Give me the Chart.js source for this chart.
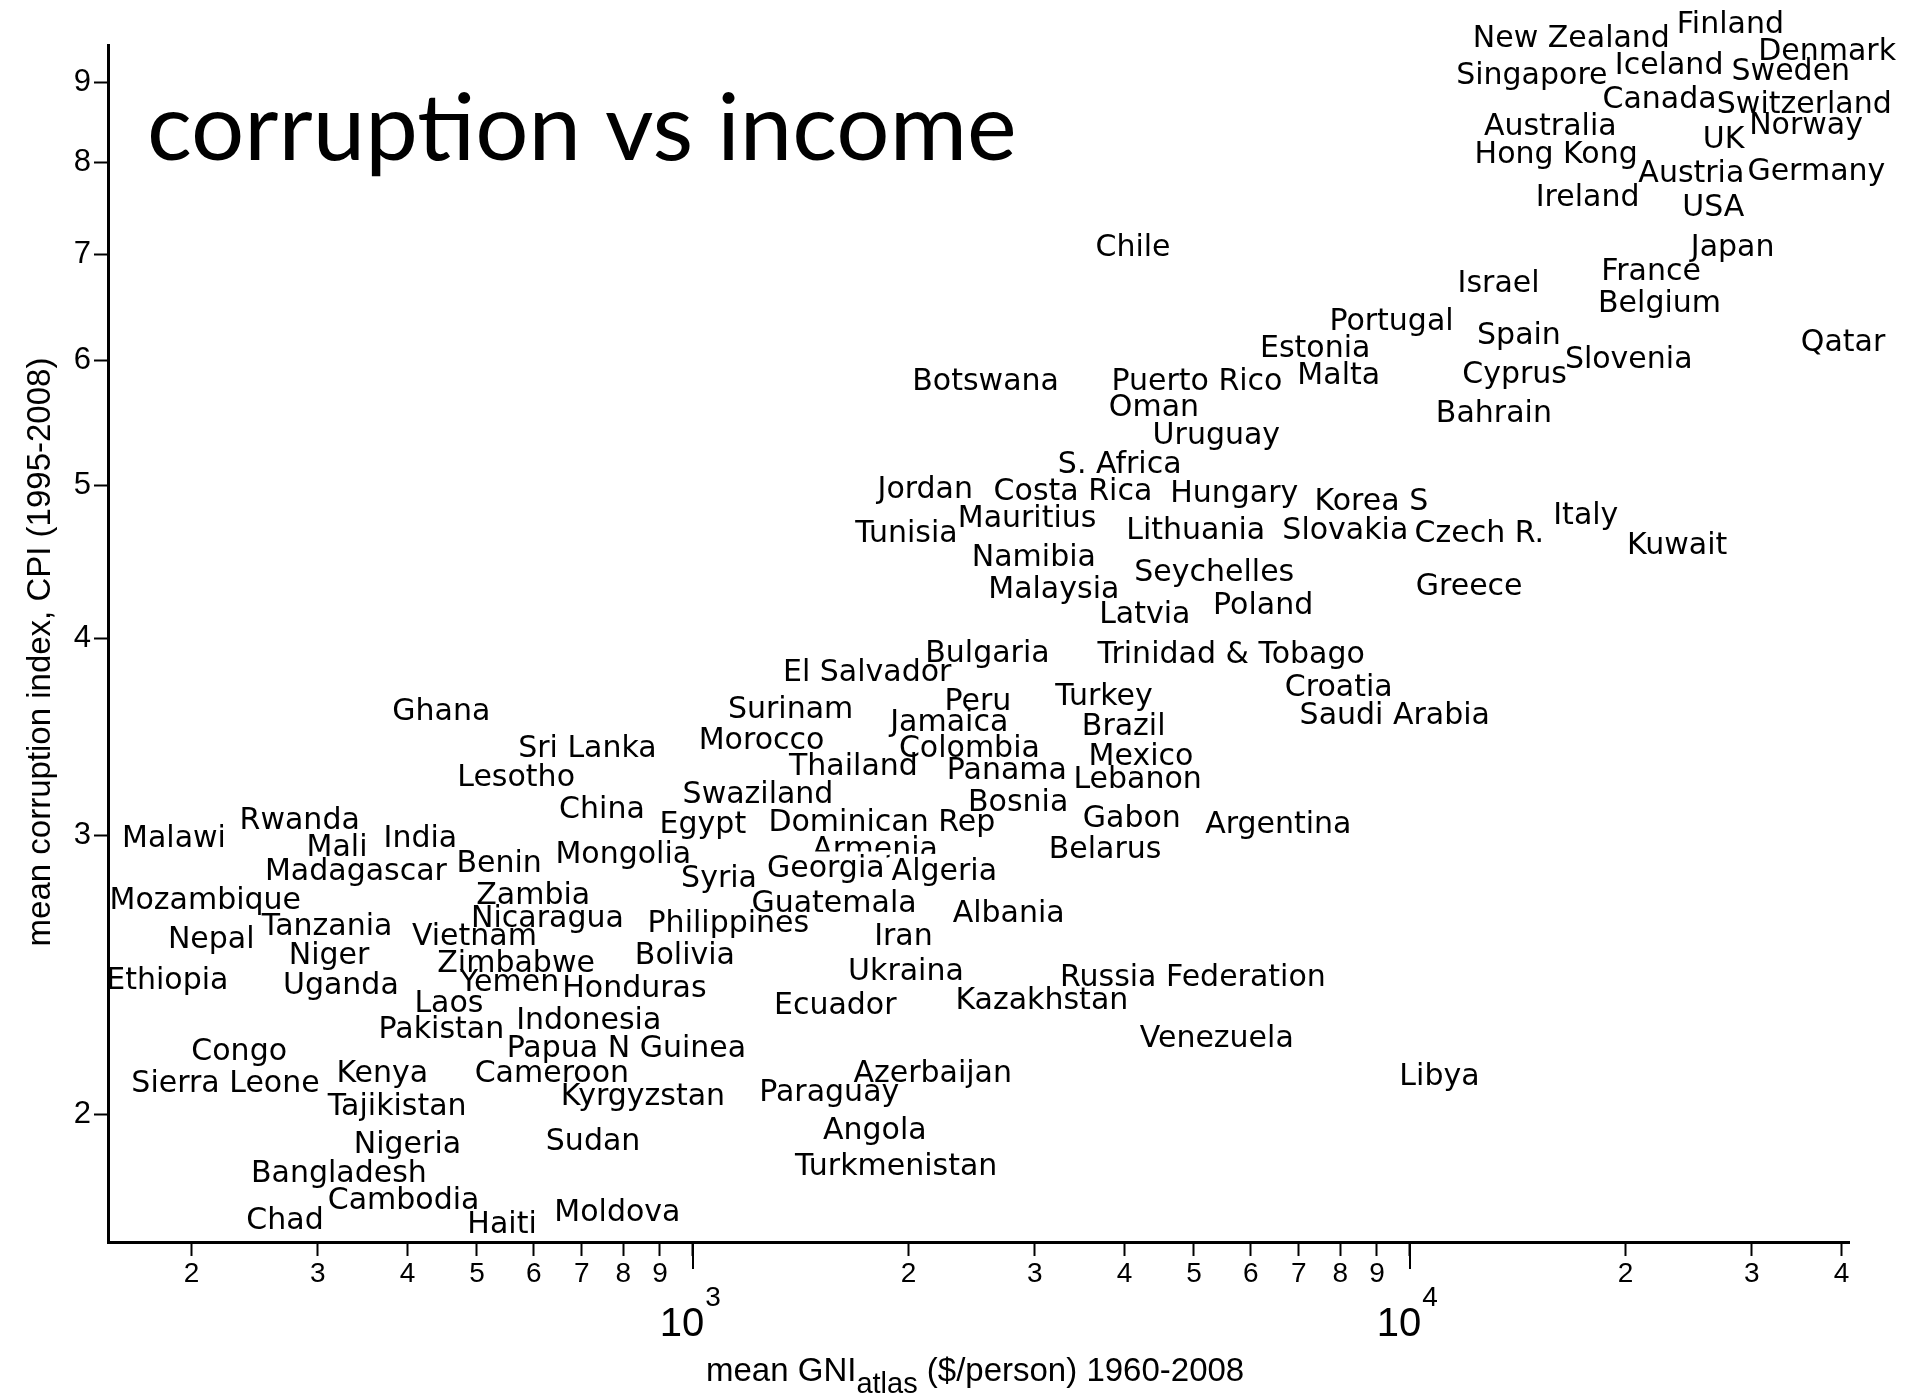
<!DOCTYPE html>
<html>
<head>
<meta charset="utf-8">
<title>corruption vs income</title>
<script src="https://cdn.jsdelivr.net/npm/chart.js@4/dist/chart.umd.min.js"></script>
<style>
  html, body { margin: 0; padding: 0; background: #fff; }
  canvas { display: block; }
</style>
</head>
<body>
<canvas id="chart" width="1905" height="1397" style="width:1905px;height:1397px"></canvas>
<script>
// Mean corruption perception index (1995-2008) against mean GNI per person (1960-2008)

const countries = [
  'Malawi', 'Rwanda', 'Mali', 'India', 'Madagascar', 'Benin', 'Mongolia', 'China', 'Lesotho', 'Sri Lanka',
  'Ghana', 'Mozambique', 'Tanzania', 'Zambia', 'Nicaragua', 'Vietnam', 'Nepal', 'Niger', 'Zimbabwe', 'Ethiopia',
  'Uganda', 'Yemen', 'Honduras', 'Laos', 'Pakistan', 'Indonesia', 'Papua N Guinea', 'Congo', 'Sierra Leone', 'Kenya',
  'Cameroon', 'Tajikistan', 'Kyrgyzstan', 'Nigeria', 'Sudan', 'Bangladesh', 'Cambodia', 'Chad', 'Haiti', 'Moldova',
  'Latvia', 'Bulgaria', 'El Salvador', 'Trinidad & Tobago', 'Surinam', 'Peru', 'Turkey', 'Jamaica', 'Brazil', 'Morocco',
  'Colombia', 'Mexico', 'Thailand', 'Panama', 'Lebanon', 'Swaziland', 'Bosnia', 'Gabon', 'Argentina', 'Egypt',
  'Dominican Rep', 'Armenia', 'Georgia', 'Algeria', 'Belarus', 'Syria', 'Guatemala', 'Philippines', 'Albania', 'Iran',
  'Bolivia', 'Ukraina', 'Russia Federation', 'Kazakhstan', 'Ecuador', 'Venezuela', 'Azerbaijan', 'Paraguay', 'Angola', 'Turkmenistan',
  'Chile', 'Botswana', 'Puerto Rico', 'Oman', 'Uruguay', 'Estonia', 'S. Africa', 'Jordan', 'Costa Rica', 'Hungary',
  'Tunisia', 'Mauritius', 'Lithuania', 'Namibia', 'Seychelles', 'Malaysia', 'Poland',
  'Finland', 'New Zealand', 'Denmark', 'Singapore', 'Iceland', 'Sweden', 'Canada', 'Switzerland', 'Norway', 'Australia',
  'UK', 'Hong Kong', 'Austria', 'Germany', 'Ireland', 'USA', 'Japan', 'Israel', 'France', 'Belgium',
  'Portugal', 'Spain', 'Qatar', 'Slovenia', 'Malta', 'Cyprus', 'Bahrain', 'Korea S', 'Slovakia', 'Czech R.',
  'Italy', 'Kuwait', 'Greece', 'Croatia', 'Saudi Arabia', 'Libya'
];

// mean GNI (atlas method), $ per person
const gni = [
  189, 283, 319, 417, 339, 537, 800, 747, 567, 713,
  446, 209, 309, 599, 627, 496, 213, 311, 567, 185,
  323, 555, 829, 457, 446, 716, 808, 233, 223, 369,
  636, 387, 852, 400, 726, 321, 395, 270, 542, 785,
  4270, 2576, 1751, 5635, 1369, 2498, 3745, 2279, 3990, 1247,
  2431, 4218, 1675, 2742, 4173, 1233, 2843, 4096, 6556, 1033,
  1835, 1796, 1533, 2243, 3758, 1088, 1574, 1121, 2758, 1967,
  975, 1983, 4983, 3068, 1580, 5380, 2161, 1550, 1794, 1922,
  4111, 2561, 5048, 4397, 5373, 7381, 3939, 2110, 3390, 5690,
  1986, 2926, 5028, 2990, 5337, 3188, 6244,
  28000, 16800, 38200, 14800, 23000, 34000, 22300, 35500, 35700, 15700,
  27400, 16000, 24700, 36900, 17700, 26500, 28200, 13300, 21700, 22300,
  9430, 14200, 40200, 20200, 7960, 14000, 13100, 8840, 8130, 12500,
  17600, 23600, 12100, 7960, 9530, 11000
];

// mean corruption perception index, CPI
const cpi = [
  3.00, 3.08, 2.96, 3.00, 2.86, 2.89, 2.93, 3.13, 3.28, 3.42,
  3.61, 2.74, 2.64, 2.76, 2.67, 2.60, 2.59, 2.53, 2.50, 2.44,
  2.42, 2.43, 2.41, 2.36, 2.27, 2.30, 2.21, 2.20, 2.10, 2.13,
  2.13, 2.03, 2.06, 1.92, 1.93, 1.84, 1.77, 1.72, 1.71, 1.74,
  4.16, 3.93, 3.82, 3.92, 3.62, 3.66, 3.69, 3.55, 3.53, 3.46,
  3.42, 3.38, 3.33, 3.31, 3.27, 3.20, 3.16, 3.09, 3.06, 3.06,
  3.07, 2.95, 2.87, 2.86, 2.95, 2.83, 2.73, 2.65, 2.69, 2.60,
  2.53, 2.47, 2.45, 2.37, 2.35, 2.24, 2.13, 2.07, 1.96, 1.86,
  7.10, 5.84, 5.84, 5.62, 5.40, 6.13, 5.17, 4.99, 4.97, 4.96,
  4.68, 4.78, 4.70, 4.52, 4.42, 4.31, 4.21,
  9.83, 9.62, 9.45, 9.12, 9.25, 9.17, 8.81, 8.74, 8.48, 8.46,
  8.31, 8.13, 7.90, 7.93, 7.63, 7.52, 7.10, 6.73, 6.85, 6.54,
  6.37, 6.24, 6.18, 6.03, 5.89, 5.90, 5.57, 4.90, 4.70, 4.68,
  4.80, 4.60, 4.33, 3.74, 3.59, 2.12
];

const xTicks = [200, 300, 400, 500, 600, 700, 800, 900, 1000,
                2000, 3000, 4000, 5000, 6000, 7000, 8000, 9000, 10000,
                20000, 30000, 40000];
const xDecades = [1000, 10000];
const yTicks = [2, 3, 4, 5, 6, 7, 8, 9];

const titleText = 'corruption vs income';
const yTitleText = 'mean corruption index, CPI (1995-2008)';
const xTitleParts = ['mean GNI', 'atlas', ' ($/person) 1960-2008'];

// labels painted on an opaque box (they hide whatever lies beneath)
const boxedLabels = new Set(['Georgia', 'Algeria']);

const points = gni.map((g, i) => ({ x: g, y: cpi[i] }));

const SANS = '"Liberation Sans", Arial, Helvetica, sans-serif';
const LABEL_SIZE = 30;
const LABEL_FONT = LABEL_SIZE + 'px "DejaVu Sans", Verdana, sans-serif';

function mantissa(v) {
  const e = Math.floor(Math.log10(v) + 1e-9);
  return Math.round(v / Math.pow(10, e));
}

const countryLabels = {
  id: 'countryLabels',
  afterDatasetsDraw(chart) {
    const ctx = chart.ctx;
    const meta = chart.getDatasetMeta(0);
    ctx.save();
    ctx.font = LABEL_FONT;
    ctx.textAlign = 'center';
    ctx.textBaseline = 'alphabetic';
    const half = LABEL_SIZE * 0.729 / 2;
    meta.data.forEach((pt, i) => {
      const name = countries[i];
      const base = pt.y + half;
      if (boxedLabels.has(name)) {
        const w = ctx.measureText(name).width;
        ctx.fillStyle = '#fff';
        ctx.fillRect(pt.x - w / 2 - 2, base - LABEL_SIZE * 0.86, w + 4, LABEL_SIZE * 1.12);
      }
      ctx.fillStyle = '#000';
      ctx.fillText(name, pt.x, base);
    });
    ctx.restore();
  }
};

const decorations = {
  id: 'decorations',
  afterDraw(chart) {
    const ctx = chart.ctx;
    const xs = chart.scales.x;
    const area = chart.chartArea;
    ctx.save();

    // longer ticks at the decades
    ctx.strokeStyle = '#000';
    ctx.lineWidth = 2;
    xDecades.forEach(d => {
      const px = Math.round(xs.getPixelForValue(d));
      ctx.beginPath();
      ctx.moveTo(px, area.bottom);
      ctx.lineTo(px, area.bottom + 27);
      ctx.stroke();
    });

    // decade labels 10^n
    ctx.fillStyle = '#000';
    ctx.textBaseline = 'alphabetic';
    ctx.textAlign = 'left';
    xDecades.forEach(d => {
      const px = xs.getPixelForValue(d);
      ctx.font = '40px ' + SANS;
      const w = ctx.measureText('10').width;
      const left = px - 33;
      ctx.fillText('10', left, area.bottom + 94);
      ctx.font = '28px ' + SANS;
      ctx.fillText(String(Math.round(Math.log10(d))), left + w + 1, area.bottom + 64);
    });

    // x axis title with subscript
    let x = 706;
    const yb = 1381;
    ctx.font = '33px ' + SANS;
    ctx.fillText(xTitleParts[0], x, yb);
    x += ctx.measureText(xTitleParts[0]).width;
    ctx.font = '29px ' + SANS;
    ctx.fillText(xTitleParts[1], x, yb + 12);
    x += ctx.measureText(xTitleParts[1]).width;
    ctx.font = '33px ' + SANS;
    ctx.fillText(xTitleParts[2], x, yb);

    // y axis title
    ctx.save();
    ctx.translate(50, 652);
    ctx.rotate(-Math.PI / 2);
    ctx.textAlign = 'center';
    ctx.font = '33px ' + SANS;
    ctx.fillText(yTitleText, 0, 0);
    ctx.restore();

    // headline
    ctx.font = '94px Lato, "Open Sans", sans-serif';
    ctx.textAlign = 'left';
    ctx.fillText(titleText, 147, 160);

    ctx.restore();
  }
};

new Chart(document.getElementById('chart'), {
  type: 'scatter',
  data: {
    datasets: [{
      data: points,
      pointRadius: 0,
      pointHoverRadius: 0,
      clip: false
    }]
  },
  options: {
    responsive: false,
    animation: false,
    events: [],
    layout: { padding: { top: 45, right: 56, left: 0, bottom: 0 } },
    plugins: {
      legend: { display: false },
      tooltip: { enabled: false },
      title: { display: false }
    },
    scales: {
      x: {
        type: 'logarithmic',
        min: 152.9,
        max: 40980,
        bounds: 'data',
        afterBuildTicks: s => { s.ticks = xTicks.map(v => ({ value: v })); },
        afterFit: s => { s.height = 155; },
        border: { display: true, color: '#000', width: 3 },
        grid: { display: true, drawOnChartArea: false, drawTicks: true, tickLength: 14, tickWidth: 2, tickColor: '#000' },
        ticks: {
          autoSkip: false, maxRotation: 0, minRotation: 0,
          padding: 1, color: '#000',
          font: { family: SANS, size: 28 },
          callback: v => (mantissa(v) === 1 ? '' : String(mantissa(v)))
        }
      },
      y: {
        type: 'logarithmic',
        min: 1.66,
        max: 9.5,
        bounds: 'data',
        afterBuildTicks: s => { s.ticks = yTicks.map(v => ({ value: v })); },
        afterFit: s => { s.width = 108; },
        border: { display: true, color: '#000', width: 3 },
        grid: { display: true, drawOnChartArea: false, drawTicks: true, tickLength: 14, tickWidth: 2, tickColor: '#000' },
        ticks: {
          autoSkip: false, padding: 3, color: '#000',
          font: { family: SANS, size: 31 },
          callback: v => String(v)
        }
      }
    }
  },
  plugins: [countryLabels, decorations]
});
</script>
</body>
</html>
